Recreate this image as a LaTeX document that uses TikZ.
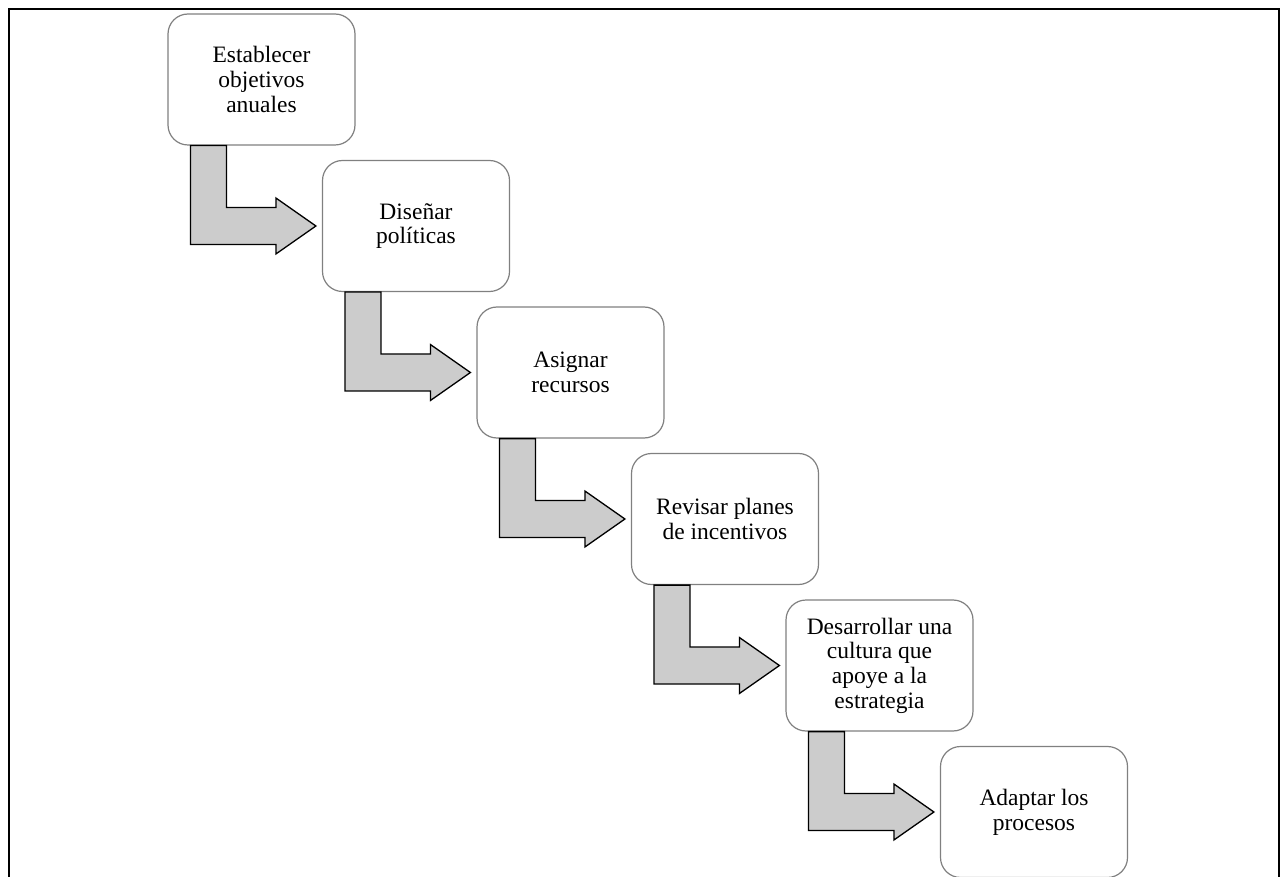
\documentclass[tikz,border=0pt]{standalone}
\usepackage{fontspec}
\setmainfont{Liberation Serif}
\usetikzlibrary{calc}
\definecolor{boxline}{RGB}{128,128,128}
\definecolor{arrowfill}{RGB}{204,204,204}
\tikzset{
  stagebox/.style={draw=boxline, line width=1.2pt, fill=white, rounded corners=20pt,
    minimum width=187pt, minimum height=131pt, inner sep=0pt, align=center,
    font=\fontsize{23.5pt}{24.7pt}\selectfont},
  bentarrow/.style={draw=black, line width=1.3pt, fill=arrowfill, line join=miter},
  frameline/.style={draw=black, line width=2pt}
}
\newcommand\stepconnector[2]{%
  \path ($(#1.south west)+(23,0)$) coordinate (s) ($(#2.west)+(-6,0)$) coordinate (t);
  \draw[bentarrow] (s) -- ($(s|-t)+(0,18.5)$) -- ($(t)+(-40,18.5)$) -- ($(t)+(-40,28)$)
    -- (t) -- ($(t)+(-40,-28)$) -- ($(t)+(-40,-18.5)$) -- ($(s|-t)+(36,-18.5)$)
    -- ($(s)+(36,0)$) -- cycle;
}
\begin{document}
\begin{tikzpicture}[x=1pt,y=-1pt]
\useasboundingbox (0,0) rectangle (1286,877);
\draw[frameline] (9,880) -- (9,9) -- (1279,9) -- (1279,880);

\node[stagebox] (b1) at (261.5,79.5) {Establecer\\objetivos\\anuales};
\node[stagebox] (b2) at (416,226) {Diseñar\\políticas};
\node[stagebox] (b3) at (570.5,372.5) {Asignar\\recursos};
\node[stagebox] (b4) at (725,519) {Revisar planes\\de incentivos};
\node[stagebox] (b5) at (879.5,665.5) {Desarrollar una\\cultura que\\apoye a la\\estrategia};
\node[stagebox] (b6) at (1034,812) {Adaptar los\\procesos};

\stepconnector{b1}{b2}
\stepconnector{b2}{b3}
\stepconnector{b3}{b4}
\stepconnector{b4}{b5}
\stepconnector{b5}{b6}
\end{tikzpicture}
\end{document}
